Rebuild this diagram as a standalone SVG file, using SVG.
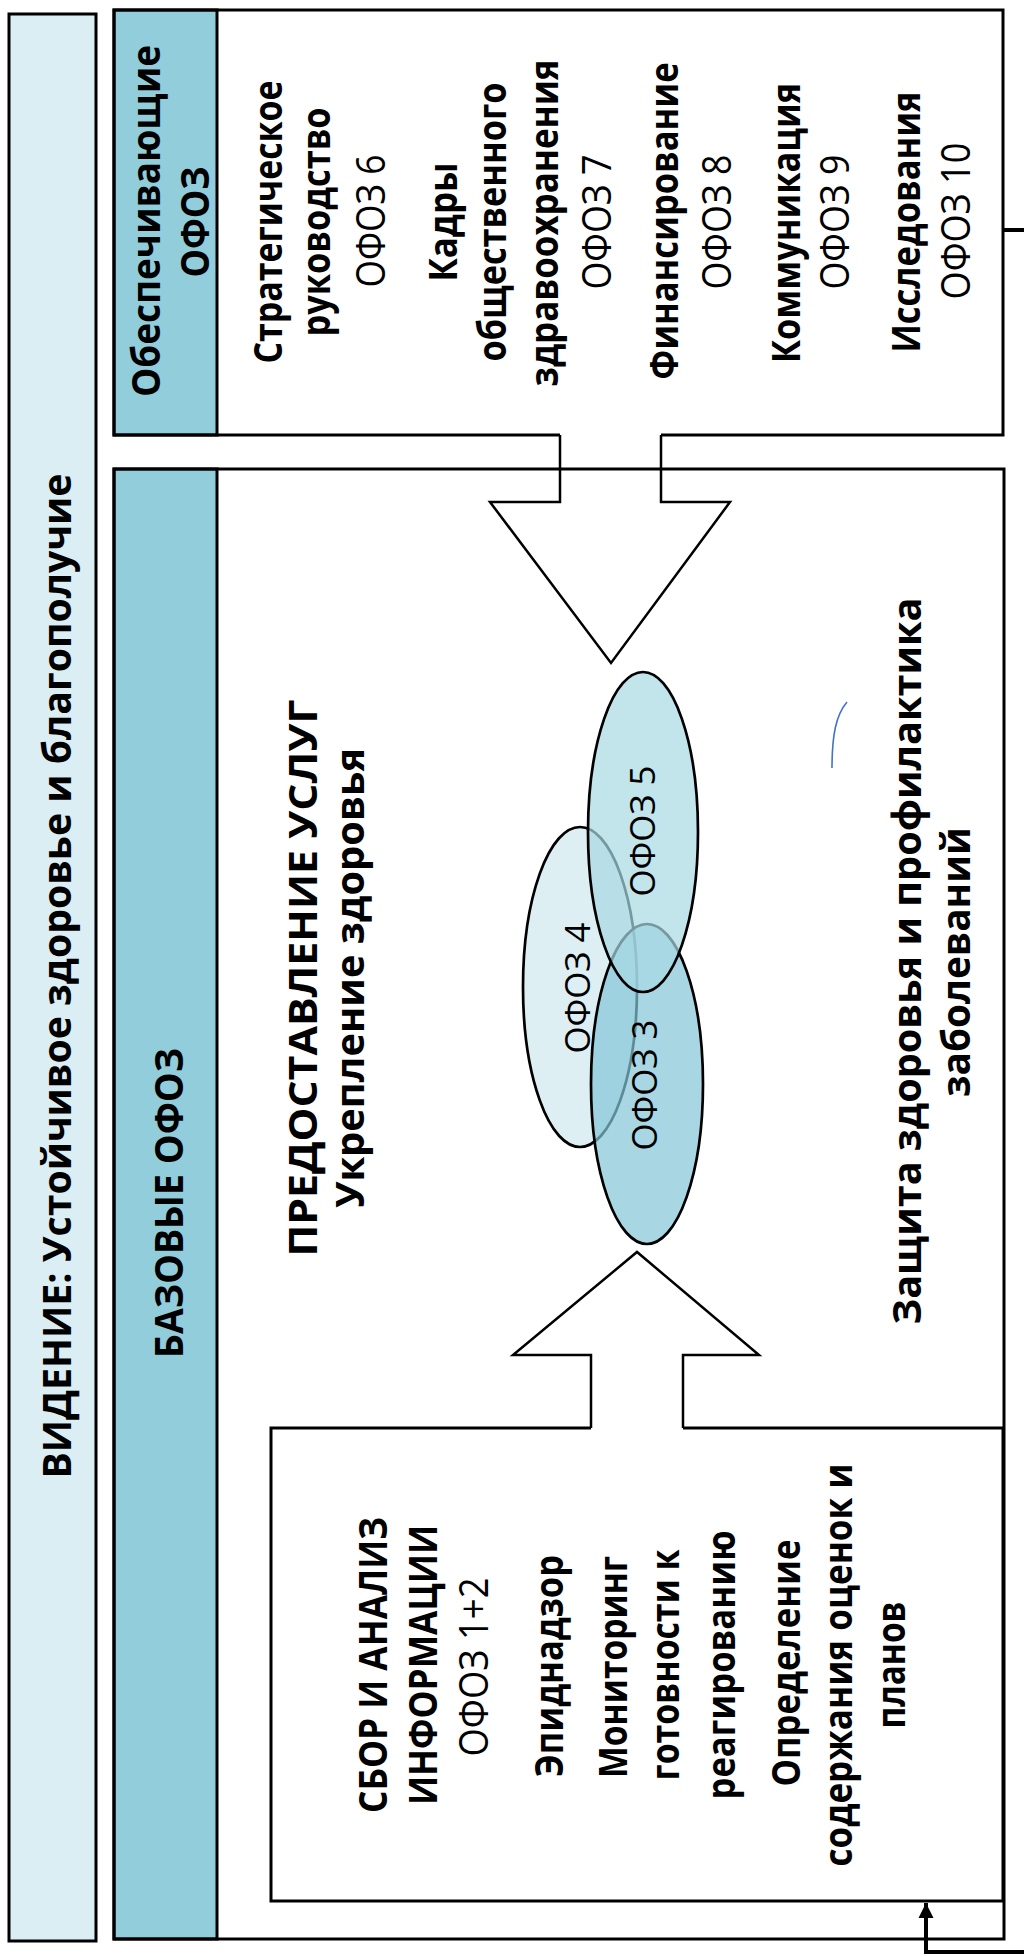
<svg xmlns="http://www.w3.org/2000/svg" width="1024" height="1957" viewBox="0 0 1024 1957">
<style>
.t{font-family:"Open Sans","Noto Sans","DejaVu Sans",sans-serif;font-size:40px;fill:#000;text-anchor:middle}
.b{font-weight:bold}
.r{font-weight:normal}
.s{font-size:34px}
.box{fill:none;stroke:#000;stroke-width:3}
.arr{fill:#fff;stroke:#000;stroke-width:2.5;stroke-linejoin:miter}
.ell{stroke:#000;stroke-width:2.7}
.hdr{fill:#92CDDC;stroke:#000;stroke-width:3}
</style>
<defs>
<marker id="ah" markerWidth="16" markerHeight="16" refX="15" refY="8" orient="auto" markerUnits="userSpaceOnUse" viewBox="0 0 16 16">
<path d="M15,8 L0,0.5 L0,15.5 Z" fill="#000"/>
</marker>
</defs>
<rect x="0" y="0" width="1024" height="1957" fill="#fff"/>

<g id="vision">
<rect x="9" y="14" width="87" height="1927" fill="#DAEEF3" stroke="#000" stroke-width="3"/>
<text class="t b" transform="translate(71,976) rotate(-90)" textLength="1005" lengthAdjust="spacingAndGlyphs">ВИДЕНИЕ: Устойчивое здоровье и благополучие</text>
</g>

<g id="arrows">
<path class="arr" d="M560,435 V502 H490 L611,663 L730,502 H661 V435"/>
<path class="arr" d="M591,1428 V1355 H513 L637,1252 L759,1355 H683 V1428"/>
</g>

<g id="enabling">
<rect x="114" y="10" width="103" height="425" class="hdr"/>
<path class="box" d="M560,435 H114 V10 H1003 V435 H661"/>
<text class="t b" transform="translate(160,221) rotate(-90)" textLength="352" lengthAdjust="spacingAndGlyphs">Обеспечивающие</text>
<text class="t b" transform="translate(209,222) rotate(-90)" textLength="111" lengthAdjust="spacingAndGlyphs">ОФОЗ</text>
<text class="t b" transform="translate(282,222) rotate(-90)" textLength="283" lengthAdjust="spacingAndGlyphs">Стратегическое</text>
<text class="t b" transform="translate(330,222) rotate(-90)" textLength="229" lengthAdjust="spacingAndGlyphs">руководство</text>
<text class="t r" transform="translate(385,221) rotate(-90)" textLength="133" lengthAdjust="spacingAndGlyphs">ОФОЗ 6</text>
<text class="t b" transform="translate(457,222) rotate(-90)" textLength="119" lengthAdjust="spacingAndGlyphs">Кадры</text>
<text class="t b" transform="translate(506,222) rotate(-90)" textLength="279" lengthAdjust="spacingAndGlyphs">общественного</text>
<text class="t b" transform="translate(558,223) rotate(-90)" textLength="327" lengthAdjust="spacingAndGlyphs">здравоохранения</text>
<text class="t r" transform="translate(611,222) rotate(-90)" textLength="135" lengthAdjust="spacingAndGlyphs">ОФОЗ 7</text>
<text class="t b" transform="translate(678,221) rotate(-90)" textLength="317" lengthAdjust="spacingAndGlyphs">Финансирование</text>
<text class="t r" transform="translate(731,222) rotate(-90)" textLength="135" lengthAdjust="spacingAndGlyphs">ОФОЗ 8</text>
<text class="t b" transform="translate(800,223) rotate(-90)" textLength="280" lengthAdjust="spacingAndGlyphs">Коммуникация</text>
<text class="t r" transform="translate(849,222) rotate(-90)" textLength="135" lengthAdjust="spacingAndGlyphs">ОФОЗ 9</text>
<text class="t b" transform="translate(920,222) rotate(-90)" textLength="261" lengthAdjust="spacingAndGlyphs">Исследования</text>
<text class="t r" transform="translate(970,221) rotate(-90)" textLength="157" lengthAdjust="spacingAndGlyphs">ОФОЗ 10</text>
</g>

<g id="core">
<rect x="114" y="469" width="103" height="1470" class="hdr"/>
<rect class="box" x="114" y="469" width="890" height="1470"/>
<text class="t b" transform="translate(183,1203) rotate(-90)" textLength="310" lengthAdjust="spacingAndGlyphs">БАЗОВЫЕ ОФОЗ</text>
<text class="t b" transform="translate(317,978) rotate(-90)" textLength="557" lengthAdjust="spacingAndGlyphs">ПРЕДОСТАВЛЕНИЕ УСЛУГ</text>
<text class="t b" transform="translate(364,978) rotate(-90)" textLength="460" lengthAdjust="spacingAndGlyphs">Укрепление здоровья</text>
<text class="t b" transform="translate(921,961) rotate(-90)" textLength="727" lengthAdjust="spacingAndGlyphs">Защита здоровья и профилактика</text>
<text class="t b" transform="translate(970,962) rotate(-90)" textLength="270" lengthAdjust="spacingAndGlyphs">заболеваний</text>
<path d="M847,702 C836,715 832,735 832,768" fill="none" stroke="#4472C4" stroke-width="1.6"/>
</g>

<g id="ofoz4">
<ellipse class="ell" cx="580" cy="987" rx="57" ry="160" fill="#DEEFF4"/>
</g>
<g id="ofoz3">
<ellipse class="ell" cx="647" cy="1084" rx="56" ry="160" fill="#83C6D7" fill-opacity="0.7"/>
</g>
<g id="ofoz5">
<ellipse class="ell" cx="643" cy="832" rx="55" ry="160" fill="#A8D8E2" fill-opacity="0.7"/>
</g>
<g id="ofoz-labels">
<text class="t r s" transform="translate(655,831) rotate(-90)" textLength="131" lengthAdjust="spacingAndGlyphs">ОФОЗ 5</text>
<text class="t r s" transform="translate(590,988) rotate(-90)" textLength="131" lengthAdjust="spacingAndGlyphs">ОФОЗ 4</text>
<text class="t r s" transform="translate(657,1085) rotate(-90)" textLength="131" lengthAdjust="spacingAndGlyphs">ОФОЗ 3</text>
</g>

<g id="info">
<path class="box" d="M591,1428 H271 V1901 H1003 V1428 H683"/>
<text class="t b" transform="translate(387,1665) rotate(-90)" textLength="296" lengthAdjust="spacingAndGlyphs">СБОР И АНАЛИЗ</text>
<text class="t b" transform="translate(437,1665) rotate(-90)" textLength="280" lengthAdjust="spacingAndGlyphs">ИНФОРМАЦИИ</text>
<text class="t r" transform="translate(488,1667) rotate(-90)" textLength="179" lengthAdjust="spacingAndGlyphs">ОФОЗ 1+2</text>
<text class="t b" transform="translate(563,1666) rotate(-90)" textLength="222" lengthAdjust="spacingAndGlyphs">Эпиднадзор</text>
<text class="t b" transform="translate(627,1667) rotate(-90)" textLength="222" lengthAdjust="spacingAndGlyphs">Мониторинг</text>
<text class="t b" transform="translate(679,1665) rotate(-90)" textLength="231" lengthAdjust="spacingAndGlyphs">готовности к</text>
<text class="t b" transform="translate(735,1665) rotate(-90)" textLength="269" lengthAdjust="spacingAndGlyphs">реагированию</text>
<text class="t b" transform="translate(800,1663) rotate(-90)" textLength="247" lengthAdjust="spacingAndGlyphs">Определение</text>
<text class="t b" transform="translate(852,1665) rotate(-90)" textLength="403" lengthAdjust="spacingAndGlyphs">содержания оценок и</text>
<text class="t b" transform="translate(905,1665) rotate(-90)" textLength="127" lengthAdjust="spacingAndGlyphs">планов</text>
</g>

<g id="connectors">
<path d="M1003,230 H1040 V1952 H926 V1903" fill="none" stroke="#000" stroke-width="4" marker-end="url(#ah)"/>
</g>
</svg>
